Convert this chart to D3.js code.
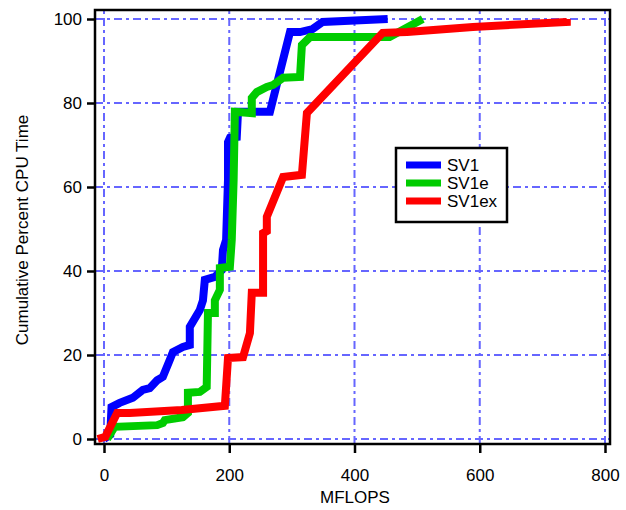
<!DOCTYPE html>
<html>
<head>
<meta charset="utf-8">
<script src="https://cdn.jsdelivr.net/npm/d3@7"></script>
<style>
  body { margin: 0; background: #fff; }
  text { font-family: "Liberation Sans", Arial, Helvetica, sans-serif; }
</style>
</head>
<body>
<div id="chart"></div>
<script>
// ---- data (MFLOPS, cumulative percent CPU time) ----
var sv1 = [[0,0],[10,1],[12,7.6],[25,8.6],[46,9.8],[62,11.7],[73,12.1],[85,14],[94,14.8],
  [105,18.8],[110,20.7],[126,21.9],[137,22.4],[137,26.7],[153,30.7],[158,33],[161,37.9],
  [177,38.6],[188,40.2],[190,45],[195,47.4],[198,61.7],[198,70.7],[201,71.7],[212,71.9],
  [214,77.9],[265,77.9],[297,96.9],[313,96.9],[333,97.6],[349,99.3],[453,100]];
var sv1e = [[5,0],[17,2.9],[85,3.3],[94,3.8],[97,4.5],[126,5.2],[134,6.2],[134,11],
  [153,11.2],[164,12.4],[166,30],[177,30],[177,33],[185,35.5],[185,40.7],[201,41],
  [204,47.4],[207,61.7],[209,77.9],[236,77.6],[236,81.2],[244,82.6],[260,83.8],[270,84.3],
  [286,86],[313,86.2],[316,93.8],[329,95.7],[456,95.7],[509,100]];
var sv1ex = [[-10,0],[2,0.5],[21,6.2],[41,6.2],[124,6.9],[193,7.9],[198,19.3],[222,19.5],
  [233,25.2],[236,34.8],[254,34.8],[254,49],[260,49.5],[260,52.9],[286,62.4],[316,62.9],
  [324,77.6],[445,96.7],[484,96.9],[589,98.1],[739,99.3],[739,100]];

var seriesNames = ["SV1", "SV1e", "SV1ex"];
var seriesData = [sv1, sv1e, sv1ex];
var seriesColors = ["#0000ff", "#00cc00", "#ff0000"];
var xTicks = [0, 200, 400, 600, 800];
var yTicks = [0, 20, 40, 60, 80, 100];

var width = 626, height = 510;
var svg = d3.select("#chart").append("svg")
    .attr("width", width).attr("height", height);

var x = d3.scaleLinear().domain([0, 800]).range([104, 605]);
var y = d3.scaleLinear().domain([0, 100]).range([439, 19]);

// frame edges, in data units
var frameL = x.invert(95), frameR = x.invert(610);
var frameT = y.invert(10), frameB = y.invert(444);

// grid
var grid = svg.append("g")
    .attr("stroke", "#6666ff")
    .attr("stroke-width", 2)
    .attr("stroke-dasharray", "8,4,3,4");
grid.selectAll(".gx").data(xTicks).enter().append("line")
    .attr("x1", d => x(d)).attr("x2", d => x(d))
    .attr("y1", y(frameB)).attr("y2", y(frameT));
grid.selectAll(".gy").data(yTicks).enter().append("line")
    .attr("y1", d => y(d)).attr("y2", d => y(d))
    .attr("x1", x(frameL)).attr("x2", x(frameR));

// curves
var line = d3.line().x(d => x(d[0])).y(d => y(d[1]));
svg.selectAll(".curve").data(seriesData).enter().append("path")
    .attr("d", line)
    .attr("fill", "none")
    .attr("stroke", (d, i) => seriesColors[i])
    .attr("stroke-width", 8)
    .attr("stroke-linejoin", "miter")
    .attr("stroke-miterlimit", 2);

// frame
svg.append("rect")
    .attr("x", x(frameL)).attr("y", y(frameT))
    .attr("width", x(frameR) - x(frameL))
    .attr("height", y(frameB) - y(frameT))
    .attr("fill", "none").attr("stroke", "#000").attr("stroke-width", 2.5);

// axes
svg.append("g")
    .attr("transform", "translate(0," + y(frameB) + ")")
    .call(d3.axisBottom(x).tickValues(xTicks).tickSize(9).tickPadding(16))
    .call(g => g.select(".domain").remove())
    .call(g => g.selectAll("line").attr("stroke-width", 2.5))
    .call(g => g.selectAll("text").attr("font-size", 17).attr("fill", "#000")
        .attr("font-family", "Liberation Sans, Arial, sans-serif"));

svg.append("g")
    .attr("transform", "translate(" + x(frameL) + ",0)")
    .call(d3.axisLeft(y).tickValues(yTicks).tickSize(8).tickPadding(5))
    .call(g => g.select(".domain").remove())
    .call(g => g.selectAll("line").attr("stroke-width", 2.5))
    .call(g => g.selectAll("text").attr("font-size", 17).attr("fill", "#000")
        .attr("font-family", "Liberation Sans, Arial, sans-serif"));

// axis titles
svg.append("text")
    .attr("x", 355).attr("y", 503)
    .attr("text-anchor", "middle").attr("font-size", 17)
    .text("MFLOPS");
svg.append("text")
    .attr("transform", "translate(28,230) rotate(-90)")
    .attr("text-anchor", "middle").attr("font-size", 17)
    .text("Cumulative Percent CPU Time");

// legend
var legend = svg.append("g").attr("transform", "translate(396,148)");
legend.append("rect")
    .attr("width", 111).attr("height", 74)
    .attr("fill", "#fff").attr("stroke", "#000").attr("stroke-width", 2.5);
var items = legend.selectAll(".item").data(seriesNames).enter().append("g")
    .attr("transform", (d, i) => "translate(0," + (17 + i * 18) + ")");
items.append("line")
    .attr("x1", 10).attr("x2", 45)
    .attr("stroke", (d, i) => seriesColors[i]).attr("stroke-width", 7);
items.append("text")
    .attr("x", 51).attr("y", 6)
    .attr("font-size", 17)
    .text(d => d);
</script>
</body>
</html>
